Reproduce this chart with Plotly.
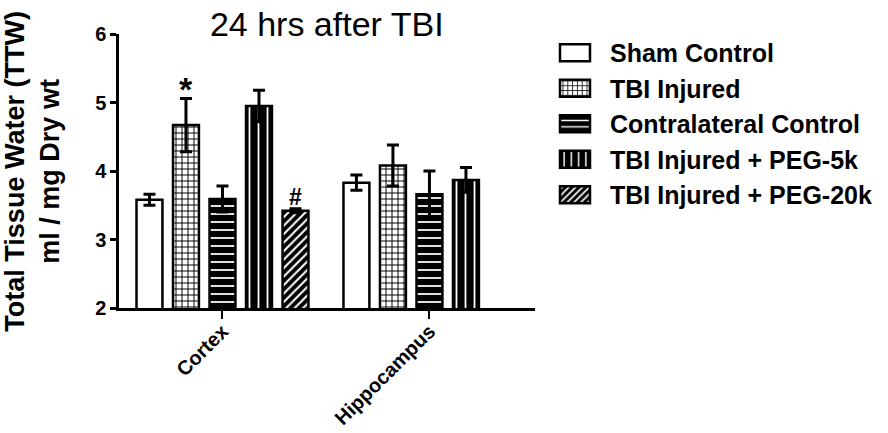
import plotly.graph_objects as go

# Regions measured and group means / SEM of total tissue water
regions = ["Cortex", "Hippocampus"]
groups = ["Sham Control", "TBI Injured", "Contralateral Control",
          "TBI Injured + PEG-5k", "TBI Injured + PEG-20k"]

sham_mean = [3.58, 3.83]
sham_sem = [0.08, 0.11]
tbi_mean = [4.67, 4.08]
tbi_sem = [0.39, 0.30]
contra_mean = [3.59, 3.66]
contra_sem = [0.19, 0.34]
peg5_mean = [4.95, 3.87]
peg5_sem = [0.23, 0.18]
peg20_mean = [3.42, None]
peg20_sem = [0.03, None]

y_ticks = [2, 3, 4, 5, 6]

FONT = "Liberation Sans, Arial, sans-serif"
BARGAP = 0.118
BARGROUPGAP = 0.29

# fill style for each group: (background, pattern shape, line colour, size, solidity)
styles = [
    ("white", "", "black", 8, 0.3),
    ("white", "+", "black", 6, 0.3),
    ("black", "-", "white", 8, 0.22),
    ("black", "|", "white", 9, 0.2),
    ("black", "/", "white", 6, 0.35),
]

means = [sham_mean, tbi_mean, contra_mean, peg5_mean, peg20_mean]
sems = [sham_sem, tbi_sem, contra_sem, peg5_sem, peg20_sem]

fig = go.Figure()
for name, m, s, (bg, shape, fg, size, sol) in zip(groups, means, sems, styles):
    fig.add_trace(go.Bar(
        name=name,
        x=regions,
        y=m,
        error_y=dict(type="data", array=s, visible=True,
                     color="black", thickness=3, width=6),
        marker=dict(
            color=bg,
            line=dict(color="black", width=2.5),
            pattern=dict(shape=shape, fgcolor=fg, bgcolor=bg,
                         size=size, solidity=sol, fillmode="replace"),
        ),
    ))

# significance markers placed above the error bars of their bars
slot = (1 - BARGAP) / len(groups)


def mark(text, group_idx, region_idx, fsize, shift):
    top = means[group_idx][region_idx] + sems[group_idx][region_idx]
    fig.add_annotation(
        x=region_idx + (group_idx - 2) * slot, y=top,
        xref="x", yref="y", text=text, showarrow=False,
        yanchor="bottom", yshift=shift,
        font=dict(family=FONT, size=fsize, color="black", weight="bold"),
    )


mark("*", 1, 0, 34, -12)
mark("#", 4, 0, 23, -3)

# two-line y axis title
fig.add_annotation(
    text="Total Tissue Water (TTW)<br>ml / mg Dry wt",
    xref="paper", yref="paper", x=-0.21, y=0.5,
    xanchor="center", yanchor="middle", textangle=-90, showarrow=False,
    font=dict(family=FONT, size=27, color="black", weight="bold"),
)

fig.update_layout(
    width=888, height=433,
    margin=dict(l=119, r=353, t=34, b=125, autoexpand=False),
    paper_bgcolor="white", plot_bgcolor="white",
    barmode="group", bargap=BARGAP, bargroupgap=BARGROUPGAP,
    title=dict(text="24 hrs after TBI", x=0.368, xanchor="center",
               y=1 - 24.5 / 433, yanchor="middle", yref="container",
               font=dict(family=FONT, size=34, color="black")),
    legend=dict(x=1.012, y=1.015, xanchor="left", yanchor="top",
                itemwidth=60, bgcolor="rgba(0,0,0,0)",
                font=dict(family=FONT, size=25, color="black", weight="bold")),
    xaxis=dict(range=[-0.5, 1.51], showline=True, linecolor="black",
               linewidth=2.5, ticks="outside", ticklen=8, tickwidth=2,
               tickcolor="black", tickangle=-45, automargin=False,
               ticklabelstandoff=-7,
               tickfont=dict(family=FONT, size=20, color="black", weight="bold")),
    yaxis=dict(range=[2, 6], tickvals=y_ticks, showline=True,
               linecolor="black", linewidth=2.5, ticks="outside", ticklen=6,
               tickwidth=2.5, tickcolor="black", showgrid=False, zeroline=False,
               automargin=False,
               tickfont=dict(family=FONT, size=20, color="black", weight="bold")),
    showlegend=True,
)

# enlarge the legend swatches to wide boxes
post = """
document.querySelectorAll('.legend .legendpoints path').forEach(function(p){
  p.setAttribute('d','M15,8.5H-15V-8.5H15Z');
});
"""
fig.write_html("out.html", post_script=post)
